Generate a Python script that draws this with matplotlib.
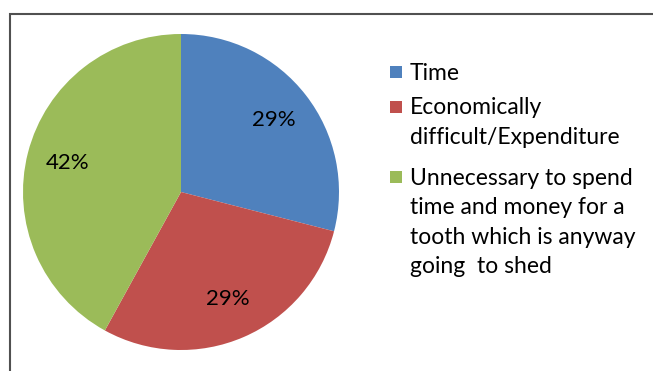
import matplotlib.pyplot as plt
from matplotlib.patches import Rectangle

labels = ['Time', 'Economically\ndifficult/Expenditure',
          'Unnecessary to spend\ntime and money for a\ntooth which is anyway\ngoing  to shed']
values = [29, 29, 42]
colors = ['#4F81BD', '#C0504D', '#9BBB59']

plt.rcParams['font.family'] = ['Lato', 'DejaVu Sans']

W, H = 653, 371
fig = plt.figure(figsize=(W / 100, H / 100), dpi=100)

# outer chart frame (extends beyond the image on right/bottom)
fig.patches.append(Rectangle((9.5 / W, -0.2), 1.2, 1.2 - 13.5 / H,
                             transform=fig.transFigure, fill=False,
                             edgecolor='#505050', linewidth=1.5))

ax = fig.add_axes([23 / W, 21 / H, 316 / W, 316 / H])
wedges, texts, autotexts = ax.pie(values, colors=colors, startangle=90, counterclock=False,
                                  autopct='%1.0f%%', pctdistance=0.74,
                                  textprops={'fontsize': 16, 'color': 'black'})
ax.set_xlim(-1, 1)
ax.set_ylim(-1, 1)
ax.set_aspect('equal')

# legend drawn by hand so the marker sits on the first line of each entry
first_line = [72, 107, 177]  # pixel rows (from top) of the first line of each entry
for lab, c, y in zip(labels, colors, first_line):
    fig.patches.append(Rectangle((390 / W, 1 - (y + 6) / H), 12 / W, 12 / H,
                                 transform=fig.transFigure, facecolor=c, edgecolor='none'))
    fig.text(410 / W, 1 - (y - 9.5) / H, lab, ha='left', va='top', fontsize=16.5,
             linespacing=1.5)

fig.savefig('out.png', dpi=100)
